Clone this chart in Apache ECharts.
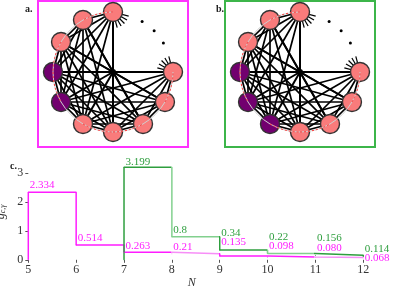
<!DOCTYPE html>
<html><head><meta charset="utf-8">
<script src="https://cdn.jsdelivr.net/npm/echarts@6/dist/echarts.min.js"></script>
<style>html,body{margin:0;padding:0;background:#fff}#c{width:408px;height:286px}</style>
</head><body><div id="c"></div>
<script>
// ---------- network panels a / b ----------
const nodeAngles = [90,120,150,180,210,240,270,300,330,0];
const purpleNodesA = [3,4];
const purpleNodesB = [3,4,5];
const ghostAngles = [60,30];          // omitted nodes (edges only hinted)
const dotAngles = [60,45,30];         // the "..." dots
const edges = [
  [0,1],[0,2],[0,3],[0,4],[0,5],[0,6],
  [1,2],[1,3],[1,4],[1,5],[1,6],[1,7],
  [2,3],[2,4],[2,5],[2,6],[2,7],[2,8],
  [3,4],[3,5],[3,6],[3,7],[3,8],[3,9],
  [4,5],[4,6],[4,7],[4,8],[4,9],
  [5,6],[5,7],[5,8],[5,9],
  [6,7],[6,8],[6,9],
  [7,8],[7,9],
  [8,9]
];
const stubNodes = [0,9];
const ringArcs = [[0,1],[1,2],[2,3],[3,4],[4,5],[5,6],[6,7],[7,8],[8,9]];
const redArcs = [[0,1],[2,3],[3,4],[5,6],[6,7],[8,9]];

// ---------- panel c ----------
const N = [5,6,7,8,9,10,11,12];
const gMagenta = [2.334,0.514,0.263,0.21,0.135,0.098,0.080,0.068];
const gMagentaText = ['2.334','0.514','0.263','0.21','0.135','0.098','0.080','0.068'];
const gGreen = [null,null,3.199,0.8,0.34,0.22,0.156,0.114];
const gGreenText = ['','','3.199','0.8','0.34','0.22','0.156','0.114'];

// styling (not data)
const magLift = [7,6.6,6.5,7,14,11,9,0];
const grnLift = [0,0,5,6.7,17,16,17,7.5];
const SALMON = '#f97b7b', PURPLE = '#72006f';
const MAG = '#ff1cff', MAG_L = '#f78ef7', GRN = '#2e9e3e', GRN_L = '#82d08e';
const serif = 'Liberation Serif';

const rad = a => a*Math.PI/180;
const pt = (a, r) => [r*Math.cos(rad(a)), r*Math.sin(rad(a))];

function netSeries(purple, axisIdx) {
  const nodes = nodeAngles.map((a,i) => ({
    value: pt(a,1), symbolSize: 19,
    itemStyle: {color: purple.includes(i) ? PURPLE : SALMON, borderColor:'#333', borderWidth:1.4}
  }));
  const hub = nodes.length;
  nodes.push({value:[0,0], symbolSize:6, itemStyle:{color:'#000'}});
  dotAngles.forEach(a => nodes.push({value: pt(a,0.97), symbolSize:3, itemStyle:{color:'#000'}}));
  const links = [];
  nodeAngles.forEach((a,i) => links.push({source:hub, target:i, lineStyle:{width:2}}));
  edges.forEach(e => links.push({source:e[0], target:e[1]}));
  const has = (i,j) => edges.some(e => (e[0]===i&&e[1]===j)||(e[0]===j&&e[1]===i));
  stubNodes.forEach(i => {
    const P = pt(nodeAngles[i],1);
    const targets = [];
    nodeAngles.forEach((a,j) => { if (j!==i && !has(i,j)) targets.push(pt(a,1)); });
    ghostAngles.forEach(a => targets.push(pt(a,1)));
    targets.forEach(Q => {
      const dx=Q[0]-P[0], dy=Q[1]-P[1], L=Math.hypot(dx,dy);
      nodes.push({value:[P[0]+dx/L*0.27, P[1]+dy/L*0.27], symbolSize:0, itemStyle:{opacity:0}});
      links.push({source:i, target:nodes.length-1, lineStyle:{width:1.2}});
    });
  });
  const base = {
    type:'graph', coordinateSystem:'cartesian2d', xAxisIndex:axisIdx, yAxisIndex:axisIdx,
    silent:true, animation:false, label:{show:false}, emphasis:{disabled:true}
  };
  const main = Object.assign({}, base, {
    z:2, data:nodes, links:links,
    lineStyle:{color:'#000', width:1.7, opacity:1}
  });
  const ringNodes = nodeAngles.map(a => ({value:pt(a,1), symbolSize:0, itemStyle:{opacity:0}}));
  const ringLinks = ringArcs.map(e => ({source:e[0], target:e[1], lineStyle:{color:'#cfcfcf', width:1, curveness:-0.13}}))
    .concat(redArcs.map(e => ({source:e[0], target:e[1], lineStyle:{color:'#ff3030', width:1, type:[2,2], curveness:-0.13}})));
  const ring = Object.assign({}, base, {z:5, data:ringNodes, links:ringLinks, lineStyle:{opacity:1}});
  return [main, ring];
}

function lineData(vals, texts, lift) {
  const d = [];
  let started = false;
  vals.forEach((v,i) => {
    if (v === null) return;
    if (!started) { d.push({value:[N[i],0], label:{show:false}}); started = true; }
    d.push({value:[N[i],v], label:{show:true, formatter:texts[i], offset:[1,-lift[i]]}});
  });
  return d;
}

const chart = echarts.init(document.getElementById('c'), null, {renderer:'canvas'});
const netAxisX = i => ({gridIndex:i, type:'value', min:-1.25, max:1.25, show:false});
const netAxisY = i => ({gridIndex:i, type:'value', min:-1.25, max:1.1833, show:false});

chart.setOption({
  animation:false,
  backgroundColor:'#fff',
  title:[
    {text:'a.', left:20, top:-1, textStyle:{fontFamily:serif, fontSize:10, fontWeight:'bold', color:'#222'}},
    {text:'b.', left:211, top:-1, textStyle:{fontFamily:serif, fontSize:10, fontWeight:'bold', color:'#222'}},
    {text:'c.', left:5, top:156, textStyle:{fontFamily:serif, fontSize:10, fontWeight:'bold', color:'#222'}}
  ],
  grid:[
    {left:38, top:1, width:150, height:146, show:true, borderColor:'#ff33ff', borderWidth:2, backgroundColor:'transparent', containLabel:false, outerBoundsMode:'none'},
    {left:225, top:1, width:150, height:146, show:true, borderColor:'#3cb54a', borderWidth:2, backgroundColor:'transparent', containLabel:false, outerBoundsMode:'none'},
    {left:28.3, top:158.6, width:335, height:101.2, containLabel:false, outerBoundsMode:'none'}
  ],
  visualMap:[
    {type:'piecewise', show:false, dimension:0, seriesIndex:4,
     pieces:[{lt:7.98, color:MAG},{gte:7.98, lt:8.98, color:MAG_L},{gte:8.98, lt:10.98, color:MAG},{gte:10.98, color:MAG_L}]},
    {type:'piecewise', show:false, dimension:0, seriesIndex:5,
     pieces:[{lt:7.98, color:GRN},{gte:7.98, lt:8.98, color:GRN_L},{gte:8.98, lt:9.98, color:GRN},{gte:9.98, lt:10.98, color:GRN_L},{gte:10.98, color:GRN}]}
  ],
  xAxis:[netAxisX(0), netAxisX(1), {
    gridIndex:2, type:'value', min:5, max:12, interval:1,
    name:'N', nameLocation:'middle', nameGap:9,
    nameTextStyle:{fontFamily:serif, fontStyle:'italic', fontSize:12, color:'#333', padding:[0,0,0,-8]},
    axisLine:{show:false}, splitLine:{show:false},
    axisTick:{show:true, length:3, lineStyle:{color:'#555'}},
    axisLabel:{fontFamily:serif, fontSize:12, color:'#333', margin:4}
  }],
  yAxis:[netAxisY(0), netAxisY(1), {
    gridIndex:2, type:'value', min:0, max:3.5, interval:1,
    name:'{g|g}{s|c,γ}{u|ul}', nameLocation:'middle', nameGap:13, nameRotate:90,
    nameTextStyle:{rich:{
      g:{fontFamily:serif, fontStyle:'italic', fontSize:12, color:'#333'},
      s:{fontFamily:serif, fontStyle:'italic', fontSize:8, color:'#333', verticalAlign:'bottom', padding:[4,0,0,0]},
      u:{fontFamily:serif, fontStyle:'italic', fontSize:7, color:'#333', verticalAlign:'top', padding:[0,0,3,0]}
    }},
    axisLine:{show:false}, splitLine:{show:false},
    axisTick:{show:true, length:3, lineStyle:{color:'#555'}},
    axisLabel:{fontFamily:serif, fontSize:12, color:'#333', margin:5, showMaxLabel:false}
  }],
  series: [].concat(netSeries(purpleNodesA,0), netSeries(purpleNodesB,1), [
    {
      type:'line', xAxisIndex:2, yAxisIndex:2, step:'end', silent:true,
      symbol:'circle', symbolSize:1, itemStyle:{color:'rgba(0,0,0,0)'},
      lineStyle:{width:1.5},
      label:{position:'right', distance:0, color:MAG, fontFamily:serif, fontSize:11},
      data: lineData(gMagenta, gMagentaText, magLift)
    },
    {
      type:'line', xAxisIndex:2, yAxisIndex:2, step:'end', silent:true,
      symbol:'circle', symbolSize:1, itemStyle:{color:'rgba(0,0,0,0)'},
      lineStyle:{width:1.5},
      label:{position:'right', distance:0, color:GRN, fontFamily:serif, fontSize:11},
      data: lineData(gGreen, gGreenText, grnLift)
    }
  ])
});
</script></body></html>
